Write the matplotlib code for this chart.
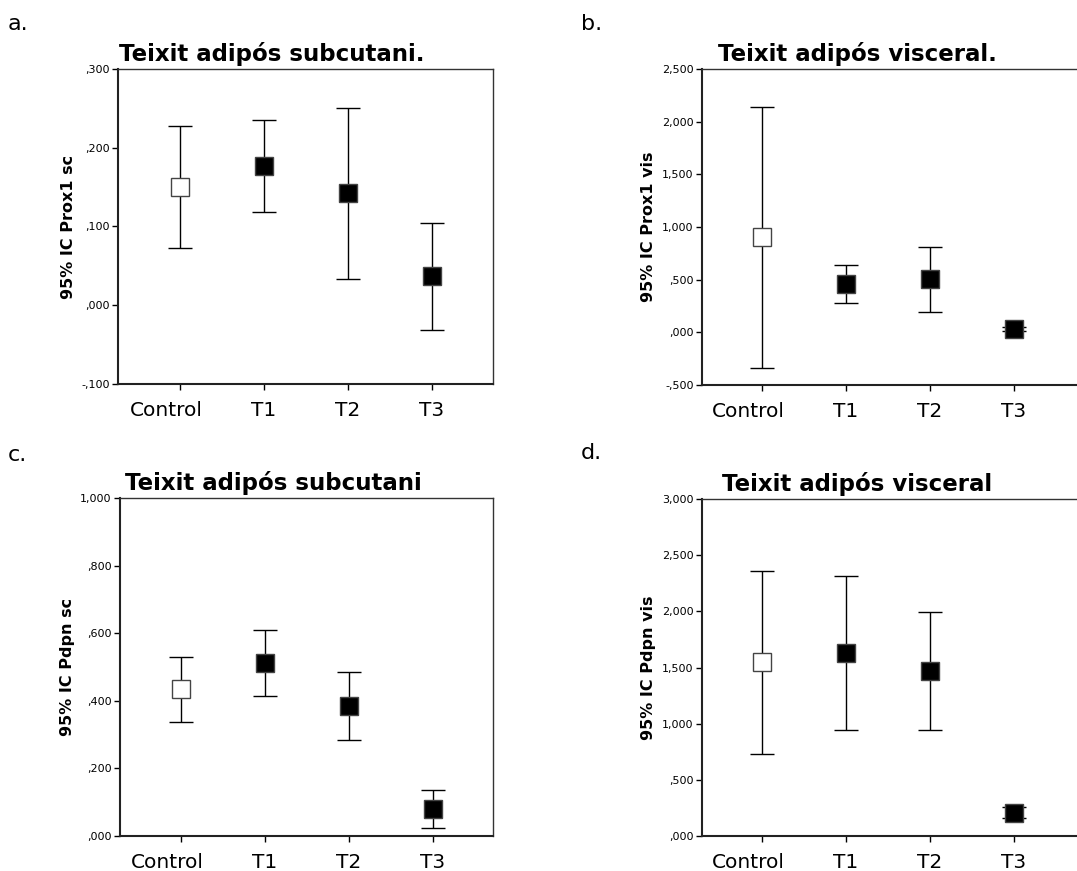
import numpy as np
import matplotlib
matplotlib.use('Agg')
import matplotlib.pyplot as plt

groups = ['Control', 'T1', 'T2', 'T3']

# a. Prox1 sc
prox1_sc_mean = [0.150, 0.177, 0.142, 0.037]
prox1_sc_low = [0.073, 0.119, 0.033, -0.032]
prox1_sc_high = [0.228, 0.235, 0.251, 0.105]

# b. Prox1 vis
prox1_vis_mean = [0.902, 0.462, 0.503, 0.030]
prox1_vis_low = [-0.339, 0.282, 0.193, 0.008]
prox1_vis_high = [2.139, 0.639, 0.813, 0.052]

# c. Pdpn sc
pdpn_sc_mean = [0.434, 0.511, 0.384, 0.080]
pdpn_sc_low = [0.336, 0.415, 0.285, 0.025]
pdpn_sc_high = [0.530, 0.608, 0.485, 0.135]

# d. Pdpn vis
pdpn_vis_mean = [1.546, 1.632, 1.466, 0.208]
pdpn_vis_low = [0.727, 0.947, 0.941, 0.163]
pdpn_vis_high = [2.360, 2.315, 1.994, 0.258]

ticks_a = [-0.1, 0.0, 0.1, 0.2, 0.3]
ticklabels_a = ['-,100', ',000', ',100', ',200', ',300']
ticks_b = [-0.5, 0.0, 0.5, 1.0, 1.5, 2.0, 2.5]
ticklabels_b = ['-,500', ',000', ',500', '1,000', '1,500', '2,000', '2,500']
ticks_c = [0.0, 0.2, 0.4, 0.6, 0.8, 1.0]
ticklabels_c = [',000', ',200', ',400', ',600', ',800', '1,000']
ticks_d = [0.0, 0.5, 1.0, 1.5, 2.0, 2.5, 3.0]
ticklabels_d = [',000', ',500', '1,000', '1,500', '2,000', '2,500', '3,000']

W, H = 1077, 871

# (letter, title, ylabel, data..., ticks, labels, axes box in pixels: left, top, right, bottom)
panels = [
    ('a.', 'Teixit adipós subcutani.', '95% IC Prox1 sc', prox1_sc_mean, prox1_sc_low, prox1_sc_high,
     ticks_a, ticklabels_a, (118, 69, 493, 384)),
    ('b.', 'Teixit adipós visceral.', '95% IC Prox1 vis', prox1_vis_mean, prox1_vis_low, prox1_vis_high,
     ticks_b, ticklabels_b, (702, 69, 1080, 385)),
    ('c.', 'Teixit adipós subcutani', '95% IC Pdpn sc', pdpn_sc_mean, pdpn_sc_low, pdpn_sc_high,
     ticks_c, ticklabels_c, (120, 498, 493, 836)),
    ('d.', 'Teixit adipós visceral', '95% IC Pdpn vis', pdpn_vis_mean, pdpn_vis_low, pdpn_vis_high,
     ticks_d, ticklabels_d, (702, 499, 1080, 836)),
]
letter_pos = [(8, 24), (581, 24), (8, 455), (581, 453)]
first_x = [180, 762, 181, 762]
step = 84.0

fig = plt.figure(figsize=(W / 100, H / 100), dpi=100)

for (letter, title, ylabel, mean, low, high, ticks, labels, box), lp, fx in zip(panels, letter_pos, first_x):
    l, t, r, b = box
    ax = fig.add_axes([l / W, 1 - b / H, (r - l) / W, (b - t) / H])
    x = np.arange(len(groups))
    mean = np.array(mean)
    yerr = [mean - np.array(low), np.array(high) - mean]
    ax.errorbar(x, mean, yerr=yerr, fmt='none', ecolor='black', elinewidth=1.0,
                capsize=8.5, capthick=1.0, zorder=2)
    faces = ['white'] + ['black'] * (len(groups) - 1)
    for xi, m, fc in zip(x, mean, faces):
        ax.plot(xi, m, marker='s', markersize=13.5, markerfacecolor=fc,
                markeredgecolor='#444444', markeredgewidth=1.0, zorder=3)
    x0 = -(fx - l) / step
    ax.set_xlim(x0, x0 + (r - l) / step)
    ax.set_ylim(ticks[0], ticks[-1])
    ax.set_xticks(x)
    ax.set_xticklabels([''] + groups[1:], fontsize=14.5)
    # "Control" sits a little left of its tick in the original
    ax.annotate(groups[0], xy=(0, 0), xycoords=('data', 'axes fraction'),
                xytext=(-9.5, -12), textcoords='offset points',
                ha='center', va='top', fontsize=14.5)
    ax.set_yticks(ticks)
    ax.set_yticklabels(labels, fontsize=8)
    ax.tick_params(axis='x', length=4, width=1, pad=8)
    ax.tick_params(axis='y', length=4, width=1, pad=2)
    ax.set_ylabel(ylabel, fontsize=11.5, fontweight='bold', labelpad=4)
    ax.set_title(title, fontsize=16.5, fontweight='bold', x=0.41, pad=6)
    for side in ['left', 'bottom']:
        ax.spines[side].set_linewidth(1.5)
        ax.spines[side].set_color('#222222')
    for side in ['top', 'right']:
        ax.spines[side].set_linewidth(1.0)
        ax.spines[side].set_color('#333333')
    fig.text(lp[0] / W, 1 - lp[1] / H, letter, fontsize=16, ha='left', va='center')

plt.savefig('out.png', dpi=100)
